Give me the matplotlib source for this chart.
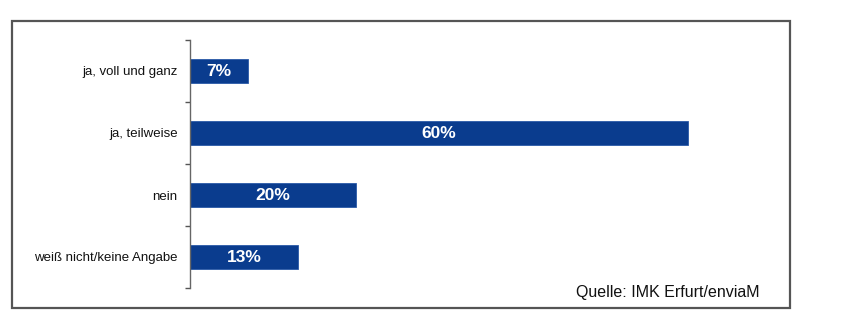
import matplotlib.pyplot as plt
from matplotlib.patches import Rectangle

plt.rcParams['font.family'] = ['Liberation Sans', 'DejaVu Sans']

categories = ['ja, voll und ganz', 'ja, teilweise', 'nein', 'weiß nicht/keine Angabe']
values = [7, 60, 20, 13]
value_labels = ['7%', '60%', '20%', '13%']
source = 'Quelle: IMK Erfurt/enviaM'

W, H = 856, 330
fig = plt.figure(figsize=(W / 100, H / 100), dpi=100)
fig.patch.set_facecolor('white')

# axes placed in pixel terms: axis line at x=190, from y=40 to y=288
ax_left, ax_right, ax_top, ax_bot = 190, 790, 40, 288
ax = fig.add_axes([ax_left / W, 1 - ax_bot / H, (ax_right - ax_left) / W, (ax_bot - ax_top) / H])
px_per_pct = (688 - 190) / 60
ax.set_xlim(0, (ax_right - ax_left) / px_per_pct)
ax.set_ylim(3.5, -0.5)

pos = list(range(len(categories)))
bars = ax.barh(pos, values, height=0.4, color='#0a3c8e', edgecolor='#2a5aa8', linewidth=0.6)
for b, lab in zip(bars, value_labels):
    ax.text(b.get_x() + b.get_width() / 2, b.get_y() + b.get_height() / 2, lab,
            ha='center', va='center', color='white', fontsize=12.5, fontweight='bold')

ax.set_yticks(pos)
ax.set_yticklabels(categories, fontsize=9.5, color='#111111')
ax.set_yticks([p - 0.5 for p in pos] + [3.5], minor=True)
ax.tick_params(axis='y', which='major', length=0, pad=9)
ax.tick_params(axis='y', which='minor', length=3.5, width=1, color='#555555')
ax.set_xticks([])
for s in ['top', 'right', 'bottom']:
    ax.spines[s].set_visible(False)
ax.spines['left'].set_color('#666666')
ax.spines['left'].set_linewidth(1)
ax.patch.set_alpha(0)

# outer frame
fig.patches.append(Rectangle((12 / W, 1 - 308 / H), (790 - 12) / W, (308 - 21) / H,
                             transform=fig.transFigure, fill=False,
                             edgecolor='#555555', linewidth=1.6))

fig.text(760 / W, 1 - 293 / H, source, ha='right', va='center', fontsize=11.5, color='#111111')

fig.savefig('out.png', dpi=100)
